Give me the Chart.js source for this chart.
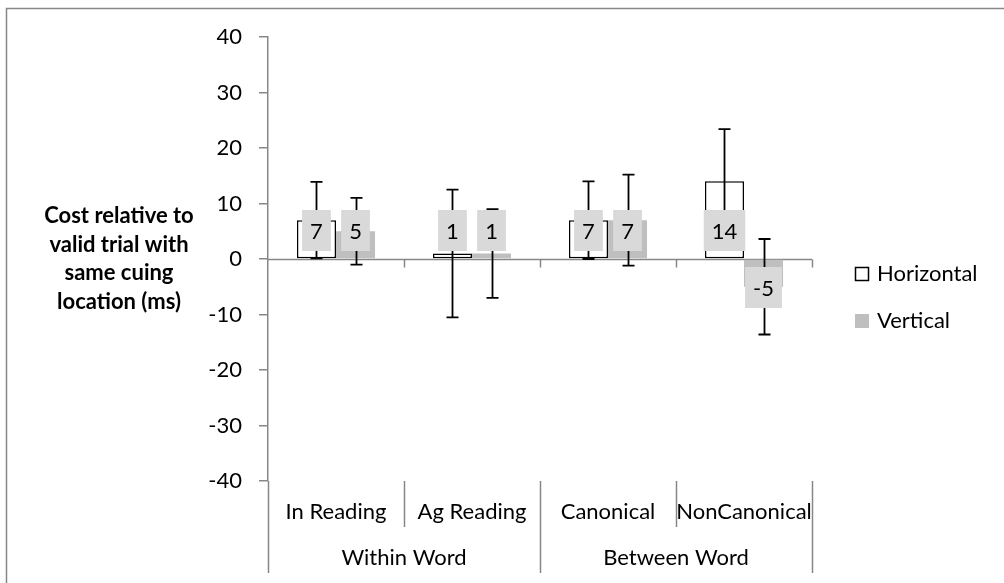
<!DOCTYPE html>
<html>
<head>
<meta charset="utf-8">
<title>Cost relative to valid trial</title>
<script src="https://cdn.jsdelivr.net/npm/chart.js@4.4.1/dist/chart.umd.min.js"></script>
<style>
  html, body { margin: 0; padding: 0; background: #ffffff; }
  canvas { display: block; }
</style>
</head>
<body>
<canvas id="chart" width="1004" height="583"></canvas>
<script>
// Conditions and their groupings
const categories = ['In Reading', 'Ag Reading', 'Canonical', 'NonCanonical'];
const groupNames = ['Within Word', 'Between Word'];
const groupSizes = [2, 2];

// Mean cost (ms) per condition
const seriesNames = ['Horizontal', 'Vertical'];
const horizontalCost = [7, 1, 7, 14];
const verticalCost = [5, 1, 7, -5];

// Error bar half-widths (ms)
const horizontalErr = [6.9, 11.5, 7.0, 9.4];
const verticalErr = [6.0, 8.0, 8.2, 8.6];

// Value axis
const yMin = -40;
const yMax = 40;
const yStep = 10;
const yTitleLines = ['Cost relative to', 'valid trial with', 'same cuing', 'location (ms)'];

const FONT = 'Lato, "Open Sans", sans-serif';
const AXIS_GREY = '#878787';
const LABEL_BOX = '#d9d9d9';
const V_FILL = '#bfbfbf';

// Outer frame and plain background
const framePlugin = {
  id: 'frame',
  beforeDraw(chart) {
    const ctx = chart.ctx;
    ctx.save();
    ctx.fillStyle = '#ffffff';
    ctx.fillRect(0, 0, chart.width, chart.height);
    ctx.strokeStyle = AXIS_GREY;
    ctx.lineWidth = 1.5;
    ctx.strokeRect(6.5, 8.5, chart.width + 20, chart.height + 20);
    ctx.restore();
  }
};

// Category axis running along zero, with tick marks at category boundaries
const zeroAxisPlugin = {
  id: 'zeroAxis',
  beforeDatasetsDraw(chart) {
    const { ctx, chartArea, scales } = chart;
    const y0 = Math.round(scales.y.getPixelForValue(0)) + 0.5;
    const x = scales.x;
    ctx.save();
    ctx.strokeStyle = AXIS_GREY;
    ctx.lineWidth = 1.5;
    ctx.beginPath();
    ctx.moveTo(chartArea.left, y0);
    ctx.lineTo(chartArea.right, y0);
    for (let i = 1; i <= categories.length; i++) {
      const bx = Math.round(x.getPixelForValue(i - 0.5)) + 0.5;
      ctx.moveTo(bx, y0);
      ctx.lineTo(bx, y0 + 8);
    }
    ctx.stroke();
    ctx.restore();
  }
};

// Error bars and value labels on top of the bars
const barDecorPlugin = {
  id: 'barDecor',
  afterDatasetsDraw(chart) {
    const { ctx, scales } = chart;
    const y = scales.y;
    const y0 = y.getPixelForValue(0);
    const errs = [horizontalErr, verticalErr];

    ctx.save();
    ctx.strokeStyle = '#000000';
    ctx.lineWidth = 1.8;
    chart.data.datasets.forEach((ds, di) => {
      const meta = chart.getDatasetMeta(di);
      meta.data.forEach((bar, i) => {
        const v = ds.data[i];
        const e = errs[di][i];
        const top = y.getPixelForValue(v + e);
        const bot = y.getPixelForValue(v - e);
        const cx = Math.round(bar.x) + 0.5;
        const cap = 6;
        ctx.beginPath();
        ctx.moveTo(cx, top);
        ctx.lineTo(cx, bot);
        ctx.moveTo(cx - cap, top);
        ctx.lineTo(cx + cap, top);
        ctx.moveTo(cx - cap, bot);
        ctx.lineTo(cx + cap, bot);
        ctx.stroke();
      });
    });

    ctx.font = '22px ' + FONT;
    ctx.textAlign = 'center';
    ctx.textBaseline = 'middle';
    chart.data.datasets.forEach((ds, di) => {
      const meta = chart.getDatasetMeta(di);
      meta.data.forEach((bar, i) => {
        const v = ds.data[i];
        const txt = String(v);
        const w = ctx.measureText(txt).width + 16;
        const h = 41;
        const bx = bar.x - w / 2;
        const by = v >= 0 ? y0 - 8 - h : y0 + 8;
        ctx.fillStyle = LABEL_BOX;
        ctx.fillRect(bx, by, w, h);
        ctx.fillStyle = '#000000';
        ctx.fillText(txt, bar.x, by + h / 2 + 1);
      });
    });
    ctx.restore();
  }
};

// Two-level category labels, separators, value-axis title and legend
const outerPlugin = {
  id: 'outer',
  afterDraw(chart) {
    const { ctx, chartArea, scales } = chart;
    const x = scales.x;
    const bottom = chartArea.bottom;
    const row1 = bottom + 31;
    const row2 = bottom + 77;
    const lineEnd = bottom + 92;

    ctx.save();
    ctx.strokeStyle = AXIS_GREY;
    ctx.lineWidth = 1.5;
    ctx.beginPath();
    // value axis continues down through the label rows
    const lx = Math.round(chartArea.left) + 0.5;
    ctx.moveTo(lx, bottom);
    ctx.lineTo(lx, lineEnd);
    let idx = 0;
    groupSizes.forEach((n, g) => {
      for (let k = 1; k <= n; k++) {
        const bx = Math.round(x.getPixelForValue(idx + k - 0.5)) + 0.5;
        ctx.moveTo(bx, bottom);
        ctx.lineTo(bx, k === n ? lineEnd : bottom + 46);
      }
      idx += n;
    });
    ctx.stroke();

    ctx.fillStyle = '#000000';
    ctx.font = '22px ' + FONT;
    ctx.textAlign = 'center';
    ctx.textBaseline = 'middle';
    categories.forEach((c, i) => {
      ctx.fillText(c, x.getPixelForValue(i), row1);
    });
    idx = 0;
    groupSizes.forEach((n, g) => {
      const l = x.getPixelForValue(idx - 0.5);
      const r = x.getPixelForValue(idx + n - 0.5);
      ctx.fillText(groupNames[g], (l + r) / 2, row2);
      idx += n;
    });

    // value-axis title, horizontal and centred on the plot height
    ctx.font = 'bold 22px ' + FONT;
    const lh = 28.7;
    const midY = (chartArea.top + chartArea.bottom) / 2;
    yTitleLines.forEach((t, i) => {
      ctx.fillText(t, 119, midY + (i - (yTitleLines.length - 1) / 2) * lh);
    });

    // legend
    ctx.font = '22px ' + FONT;
    ctx.textAlign = 'left';
    const lgX = chartArea.right + 43;
    const lgY = [274, 321];
    chart.data.datasets.forEach((ds, di) => {
      const cy = lgY[di];
      if (di === 0) {
        ctx.fillStyle = '#ffffff';
        ctx.fillRect(lgX, cy - 7, 14, 14);
        ctx.strokeStyle = '#000000';
        ctx.lineWidth = 1.5;
        ctx.strokeRect(lgX + 0.5, cy - 6.5, 13, 13);
      } else {
        ctx.fillStyle = ds.backgroundColor;
        ctx.fillRect(lgX, cy - 7, 14, 14);
      }
      ctx.fillStyle = '#000000';
      ctx.fillText(ds.label, lgX + 22, cy);
    });
    ctx.restore();
  }
};

function build() {
  new Chart(document.getElementById('chart'), {
    type: 'bar',
    data: {
      labels: categories,
      datasets: [
        {
          label: seriesNames[0],
          data: horizontalCost,
          backgroundColor: '#ffffff',
          borderColor: '#000000',
          borderWidth: 1.5,
          borderSkipped: false,
          categoryPercentage: 0.574,
          barPercentage: 1.0
        },
        {
          label: seriesNames[1],
          data: verticalCost,
          backgroundColor: V_FILL,
          borderWidth: 0,
          categoryPercentage: 0.574,
          barPercentage: 1.0
        }
      ]
    },
    options: {
      responsive: false,
      animation: false,
      devicePixelRatio: 1,
      layout: { padding: { left: 208, right: 192, top: 37, bottom: 102 } },
      plugins: {
        legend: { display: false },
        tooltip: { enabled: false }
      },
      scales: {
        x: { display: false },
        y: {
          min: yMin,
          max: yMax,
          afterFit(scale) { scale.width = 60; },
          ticks: {
            stepSize: yStep,
            padding: 17,
            color: '#000000',
            font: { family: FONT, size: 22 }
          },
          grid: {
            drawOnChartArea: false,
            drawTicks: true,
            tickLength: 9,
            color: AXIS_GREY,
            lineWidth: 1.5
          },
          border: { display: true, color: AXIS_GREY, width: 1.5 }
        }
      }
    },
    plugins: [framePlugin, zeroAxisPlugin, barDecorPlugin, outerPlugin]
  });
}

if (document.fonts && document.fonts.load) {
  Promise.all([
    document.fonts.load('22px Lato'),
    document.fonts.load('bold 22px Lato')
  ]).then(build, build);
} else {
  build();
}
</script>
</body>
</html>
